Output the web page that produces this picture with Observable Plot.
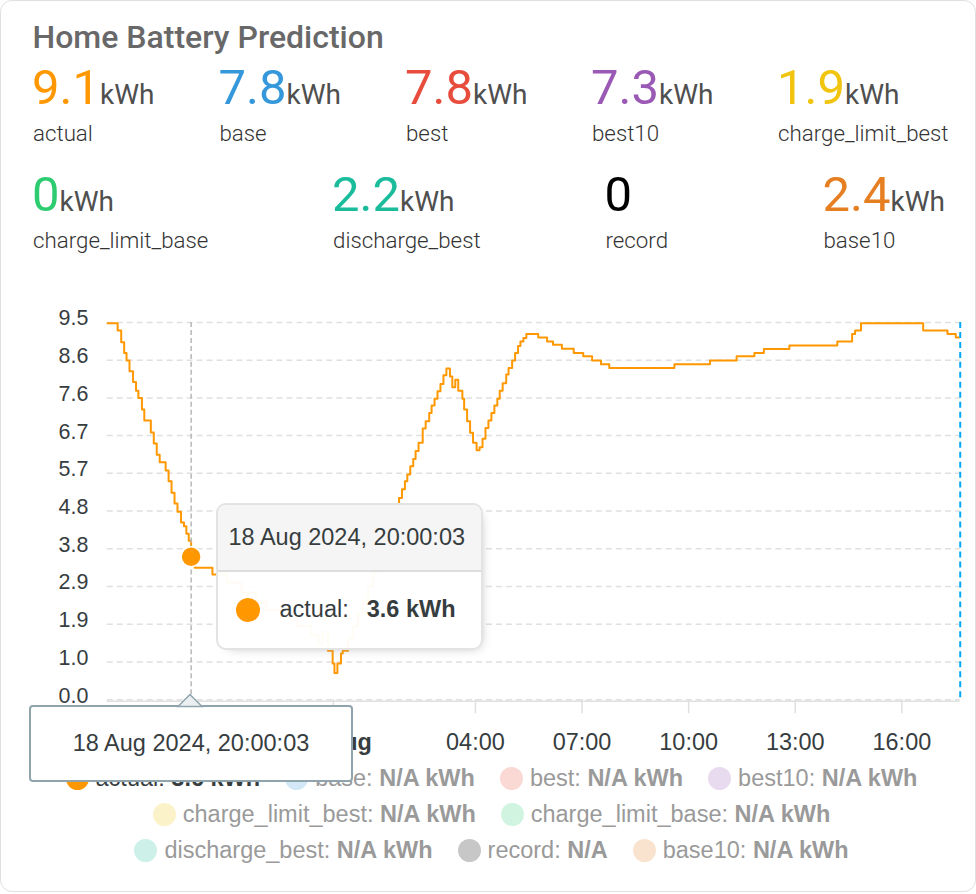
<!DOCTYPE html>
<html><head><meta charset="utf-8">
<script src="https://cdn.jsdelivr.net/npm/d3@7"></script>
<script src="https://cdn.jsdelivr.net/npm/@observablehq/plot@0.6"></script>
<style>
html,body{margin:0;padding:0;background:#fff;}
body{width:976px;height:894px;position:relative;overflow:hidden;font-family:Roboto,"Noto Sans",sans-serif;}
#card{position:absolute;left:0;top:0;width:976px;height:892px;box-sizing:border-box;border:1.5px solid #e0e0e0;border-radius:12px;background:#fff;}
.abs{position:absolute;white-space:nowrap;}
#title{left:31.5px;top:20px;font-size:32px;line-height:32px;font-weight:500;color:#686868;}
.val{font-size:49px;line-height:49px;font-weight:400;}
.unit{font-size:28px;color:#4f4f4f;}
.lab{font-size:22.3px;line-height:22.3px;font-weight:300;color:#333;}
#chart{position:absolute;left:0;top:300px;}
.tt{position:absolute;box-sizing:border-box;border:2px solid #e3e3e3;border-radius:10px;background:rgba(255,255,255,0.96);box-shadow:4px 4px 12px -8px #999;font-family:"Liberation Sans",Arial,sans-serif;color:#373d3f;overflow:hidden;}
.tt-head{height:67px;box-sizing:border-box;background:rgba(245,245,245,0.96);border-bottom:2px solid #ddd;font-size:23.5px;line-height:65px;padding-left:11px;}
.tt-body{height:76px;display:flex;align-items:center;padding-left:18px;font-size:23.5px;}
.tt-mark{width:24px;height:24px;border-radius:50%;margin-right:20px;}
.xtt{position:absolute;box-sizing:border-box;border:2px solid #90a4ae;border-radius:4px;background:#fff;font-family:"Liberation Sans",Arial,sans-serif;color:#373d3f;font-size:23.5px;text-align:center;}
#legend{position:absolute;left:0;top:759px;width:981px;font-family:"Liberation Sans",Arial,sans-serif;font-size:23.5px;}
.lrow{display:flex;justify-content:center;align-items:center;height:36px;}
.litem{display:flex;align-items:center;margin:0 12.5px;white-space:nowrap;}
.lmark{width:23px;height:23px;border-radius:50%;margin-right:7px;}
</style>
</head><body>
<div id="card"></div>
<script>
// ---------- data ----------
const titleText = "Home Battery Prediction";
const seriesNames = ["actual","base","best","best10","charge_limit_best","charge_limit_base","discharge_best","record","base10"];
const statValues = ["9.1","7.8","7.8","7.3","1.9","0","2.2","0","2.4"];
const statUnits = ["kWh","kWh","kWh","kWh","kWh","kWh","kWh","","kWh"];
const seriesColors = ["#ff9800","#3498db","#e74c3c","#9b59b6","#f1c40f","#2ecc71","#1abc9c","#000000","#e67e22"];
const legendValues = ["3.6 kWh","N/A kWh","N/A kWh","N/A kWh","N/A kWh","N/A kWh","N/A kWh","N/A","N/A kWh"];

const actualTimes = [
"2024-08-18T17:30:00Z","2024-08-18T17:56:00Z","2024-08-18T18:02:00Z","2024-08-18T18:07:00Z","2024-08-18T18:11:00Z",
"2024-08-18T18:16:00Z","2024-08-18T18:22:00Z","2024-08-18T18:27:00Z","2024-08-18T18:31:00Z","2024-08-18T18:37:00Z",
"2024-08-18T18:41:00Z","2024-08-18T18:52:00Z","2024-08-18T18:57:00Z","2024-08-18T19:02:00Z","2024-08-18T19:07:00Z",
"2024-08-18T19:17:00Z","2024-08-18T19:22:00Z","2024-08-18T19:27:00Z","2024-08-18T19:32:00Z","2024-08-18T19:37:00Z",
"2024-08-18T19:43:00Z","2024-08-18T19:48:00Z","2024-08-18T19:52:00Z","2024-08-18T19:56:00Z","2024-08-18T20:00:03Z",
"2024-08-18T20:06:00Z","2024-08-18T20:36:00Z","2024-08-18T21:00:00Z","2024-08-18T21:25:00Z","2024-08-18T21:50:00Z",
"2024-08-18T22:07:00Z","2024-08-18T22:32:00Z","2024-08-18T22:58:00Z","2024-08-18T23:23:00Z","2024-08-18T23:35:00Z",
"2024-08-18T23:42:00Z","2024-08-18T23:51:00Z","2024-08-18T23:59:00Z","2024-08-19T00:02:00Z","2024-08-19T00:07:00Z",
"2024-08-19T00:13:00Z","2024-08-19T00:16:00Z","2024-08-19T00:25:00Z","2024-08-19T00:33:00Z","2024-08-19T00:42:00Z",
"2024-08-19T00:50:00Z","2024-08-19T00:59:00Z","2024-08-19T01:07:00Z","2024-08-19T01:15:00Z","2024-08-19T01:24:00Z",
"2024-08-19T01:32:00Z","2024-08-19T01:41:00Z","2024-08-19T01:49:00Z","2024-08-19T01:51:00Z","2024-08-19T01:56:00Z",
"2024-08-19T02:01:00Z","2024-08-19T02:05:00Z","2024-08-19T02:10:00Z","2024-08-19T02:15:00Z","2024-08-19T02:19:00Z",
"2024-08-19T02:24:00Z","2024-08-19T02:31:00Z","2024-08-19T02:36:00Z","2024-08-19T02:42:00Z","2024-08-19T02:46:00Z",
"2024-08-19T02:51:00Z","2024-08-19T02:56:00Z","2024-08-19T03:01:00Z","2024-08-19T03:06:00Z","2024-08-19T03:11:00Z",
"2024-08-19T03:17:00Z","2024-08-19T03:21:00Z","2024-08-19T03:26:00Z","2024-08-19T03:31:00Z","2024-08-19T03:38:00Z",
"2024-08-19T03:41:00Z","2024-08-19T03:46:00Z","2024-08-19T03:51:00Z","2024-08-19T03:56:00Z","2024-08-19T04:02:00Z",
"2024-08-19T04:07:00Z","2024-08-19T04:12:00Z","2024-08-19T04:17:00Z","2024-08-19T04:22:00Z","2024-08-19T04:27:00Z",
"2024-08-19T04:32:00Z","2024-08-19T04:37:00Z","2024-08-19T04:41:00Z","2024-08-19T04:46:00Z","2024-08-19T04:52:00Z",
"2024-08-19T04:56:00Z","2024-08-19T05:02:00Z","2024-08-19T05:07:00Z","2024-08-19T05:12:00Z","2024-08-19T05:16:00Z",
"2024-08-19T05:21:00Z","2024-08-19T05:26:00Z","2024-08-19T05:46:00Z","2024-08-19T06:01:00Z","2024-08-19T06:11:00Z",
"2024-08-19T06:26:00Z","2024-08-19T06:46:00Z","2024-08-19T07:02:00Z","2024-08-19T07:17:00Z","2024-08-19T07:32:00Z",
"2024-08-19T07:46:00Z","2024-08-19T09:36:00Z","2024-08-19T10:36:00Z","2024-08-19T11:21:00Z","2024-08-19T11:51:00Z",
"2024-08-19T12:07:00Z","2024-08-19T12:50:00Z","2024-08-19T14:11:00Z","2024-08-19T14:36:00Z","2024-08-19T14:41:00Z",
"2024-08-19T14:51:00Z","2024-08-19T16:36:00Z","2024-08-19T17:17:00Z","2024-08-19T17:31:00Z","2024-08-19T17:38:30Z"
];
const actualValues = [
9.48,9.3,9.0,8.73,8.54,
8.27,8.0,7.78,7.6,7.31,
7.03,6.73,6.45,6.17,5.98,
5.77,5.5,5.21,4.94,4.73,
4.46,4.37,4.18,4.0,3.6,
3.32,3.15,2.95,2.7,2.45,
2.25,2.05,1.85,1.62,1.4,
1.7,1.23,0.91,0.67,0.91,
1.16,1.23,1.55,1.85,2.2,
2.5,2.85,3.2,3.5,3.85,
4.2,4.55,4.93,5.08,5.3,
5.5,5.67,5.88,6.06,6.26,
6.47,6.83,7.01,7.22,7.41,
7.58,7.77,7.95,8.17,8.34,
8.14,7.87,8.06,7.78,7.58,
7.31,7.01,6.72,6.47,6.28,
6.36,6.57,6.84,7.03,7.22,
7.41,7.58,7.78,7.97,8.19,
8.35,8.54,8.73,8.91,9.02,
9.11,9.21,9.12,9.02,8.94,
8.84,8.73,8.65,8.54,8.45,
8.35,8.45,8.54,8.65,8.73,
8.83,8.92,9.02,9.21,9.3,
9.48,9.3,9.21,9.12,9.12
];

const xDomainTimes = ["2024-08-18T17:38:30Z","2024-08-19T17:38:30Z"];
const nowTime = "2024-08-19T17:38:30Z";
const hoverTime = "2024-08-18T20:00:03Z";
const hoverValue = 3.6;
const hoverLabel = "18 Aug 2024, 20:00:03";

const yDomain = [0, 9.5];
const yTicks = [0, 0.95, 1.9, 2.85, 3.8, 4.75, 5.7, 6.65, 7.6, 8.55, 9.5];
const yTickLabels = ["0.0","1.0","1.9","2.9","3.8","4.8","5.7","6.7","7.6","8.6","9.5"];
const xTicks = ["2024-08-19T04:00:00Z","2024-08-19T07:00:00Z","2024-08-19T10:00:00Z","2024-08-19T13:00:00Z","2024-08-19T16:00:00Z"];
const xTickLabels = ["04:00","07:00","10:00","13:00","16:00"];
const dayTicks = ["2024-08-19T00:00:00Z"];
const dayTickLabels = ["19 Aug"];

// ---------- header ----------
const card = document.getElementById("card");
const t = document.createElement("div");
t.className = "abs"; t.id = "title"; t.textContent = titleText;
card.appendChild(t);

const statLeft = [31, 217.5, 404, 590, 776, 31, 331, 603.5, 821.5];
const statRow =  [0, 0, 0, 0, 0, 1, 1, 1, 1];
seriesNames.forEach((name, i) => {
  const r = statRow[i];
  const v = document.createElement("div");
  v.className = "abs val";
  v.style.left = statLeft[i] + "px";
  v.style.top = (r === 0 ? 61.8 : 168.8) + "px";
  const vs = document.createElement("span");
  vs.textContent = statValues[i];
  vs.style.color = seriesColors[i];
  v.appendChild(vs);
  if (statUnits[i]) {
    const u = document.createElement("span");
    u.className = "unit"; u.textContent = statUnits[i];
    v.appendChild(u);
  }
  card.appendChild(v);
  const l = document.createElement("div");
  l.className = "abs lab";
  l.style.left = (statLeft[i] + 1) + "px";
  l.style.top = (r === 0 ? 121.2 : 228.2) + "px";
  l.textContent = name;
  card.appendChild(l);
});

// ---------- chart ----------
const data = actualTimes.map((s, i) => ({t: new Date(s), v: actualValues[i]}));
const xT = xTicks.map(s => new Date(s));
const dT = dayTicks.map(s => new Date(s));
const hov = new Date(hoverTime);
const labelOf = (arr, labels) => d => labels[arr.findIndex(a => +a === +d)];

const chart = Plot.plot({
  width: 976, height: 460,
  marginLeft: 106, marginRight: 15.3, marginTop: 21, marginBottom: 61,
  style: {fontFamily: "'Liberation Sans', Arial, sans-serif", color: "#373d3f", background: "transparent", overflow: "visible"},
  x: {type: "utc", domain: xDomainTimes.map(s => new Date(s)), label: null},
  y: {domain: yDomain, label: null},
  marks: [
    Plot.gridY(yTicks, {stroke: "#e0e0e0", strokeOpacity: 1, strokeWidth: 1.5, strokeDasharray: "6,4"}),
    Plot.ruleY([0], {stroke: "#e0e0e0", strokeWidth: 1.5, dy: 1.5}),
    Plot.axisY({ticks: yTicks, tickFormat: labelOf(yTicks, yTickLabels), tickSize: 0, tickPadding: 19, fontSize: 21.5, dy: -4, fill: "#373d3f", label: null}),
    Plot.axisX({ticks: xT, tickFormat: labelOf(xT, xTickLabels), tickSize: 14, tickPadding: 20, fontSize: 23.5, stroke: "#e0e0e0", strokeWidth: 1.5, fill: "#373d3f", label: null}),
    Plot.axisX({ticks: dT, tickFormat: labelOf(dT, dayTickLabels), tickSize: 14, tickPadding: 20, fontSize: 23.5, fontWeight: "bold", stroke: "#e0e0e0", strokeWidth: 1.5, fill: "#373d3f", label: null}),
    Plot.line(data, {x: "t", y: "v", curve: "step-after", stroke: seriesColors[0], strokeWidth: 2, clip: true}),
    Plot.ruleX([hov], {stroke: "#b6b6b6", strokeWidth: 1.5, strokeDasharray: "5,3"}),
    Plot.ruleX([new Date(nowTime)], {stroke: "#03a9f4", strokeWidth: 2, strokeDasharray: "6,4"}),
    Plot.dot([{t: hov, v: hoverValue}], {x: "t", y: "v", r: 10, fill: seriesColors[0], stroke: "#fff", strokeWidth: 1.5})
  ]
});
chart.id = "chart";
card.appendChild(chart);

// ---------- legend ----------
const legendRows = [[0,1,2,3],[4,5],[6,7,8]];
const lg = document.createElement("div");
lg.id = "legend";
legendRows.forEach(row => {
  const r = document.createElement("div");
  r.className = "lrow";
  row.forEach(i => {
    const it = document.createElement("div");
    it.className = "litem";
    const m = document.createElement("span");
    m.className = "lmark";
    m.style.background = seriesColors[i];
    const active = i === 0;
    if (!active) m.style.opacity = 0.22;
    const tx = document.createElement("span");
    tx.style.color = active ? "#373d3f" : "#9a9a9a";
    tx.innerHTML = seriesNames[i] + ": <b>" + legendValues[i] + "</b>";
    it.appendChild(m); it.appendChild(tx);
    r.appendChild(it);
  });
  lg.appendChild(r);
});
card.appendChild(lg);

// ---------- tooltips (positioned through the chart scales) ----------
const sx = chart.scale("x").apply(hov);
const sy = chart.scale("y").apply(hoverValue) + 300;
const frameBottom = chart.scale("y").apply(0) + 300;

const tt = document.createElement("div");
tt.className = "tt";
tt.style.left = (sx + 24.5) + "px";
tt.style.top = (sy - 54) + "px";
tt.style.width = "267px";
tt.style.height = "147px";
tt.innerHTML = '<div class="tt-head">' + hoverLabel + '</div>' +
  '<div class="tt-body"><span class="tt-mark" style="background:' + seriesColors[0] + '"></span>' +
  '<span>' + seriesNames[0] + ':</span><b style="margin-left:18px">' + hoverValue.toFixed(1) + ' kWh</b></div>';
card.appendChild(tt);

const xtt = document.createElement("div");
xtt.className = "xtt";
xtt.style.left = (sx - 162) + "px";
xtt.style.top = (frameBottom + 5) + "px";
xtt.style.width = "324px";
xtt.style.height = "77px";
xtt.style.lineHeight = "73px";
xtt.textContent = hoverLabel;
card.appendChild(xtt);

const arrowNS = "http://www.w3.org/2000/svg";
const arr = document.createElementNS(arrowNS, "svg");
arr.setAttribute("width", 30); arr.setAttribute("height", 16);
arr.style.position = "absolute";
arr.style.left = (sx - 16) + "px";
arr.style.top = (frameBottom - 7.5) + "px";
const poly = document.createElementNS(arrowNS, "polygon");
poly.setAttribute("points", "3,13.5 15,1.5 27,13.5");
poly.setAttribute("fill", "#eceff1");
poly.setAttribute("stroke", "#90a4ae");
poly.setAttribute("stroke-width", "1.5");
arr.appendChild(poly);
card.appendChild(arr);
</script>
</body></html>
